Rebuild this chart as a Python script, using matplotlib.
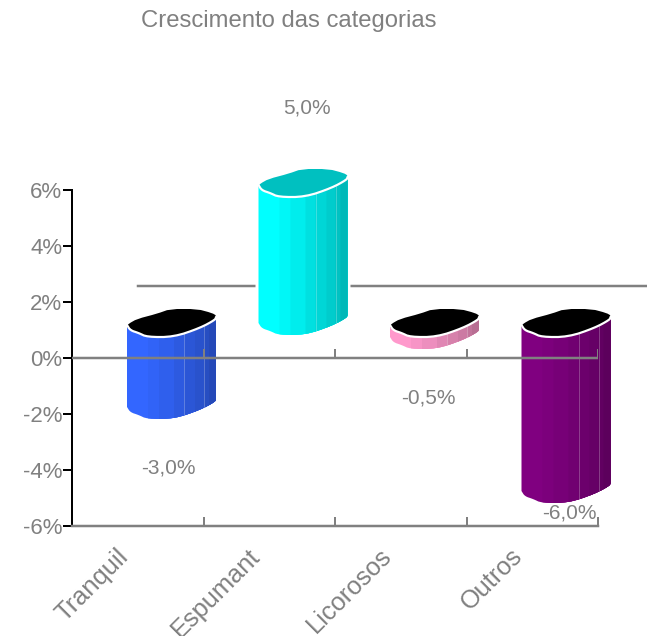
import numpy as np
import matplotlib
matplotlib.use("Agg")
import matplotlib.pyplot as plt
from matplotlib.patches import Polygon
from matplotlib.colors import to_rgb

# ---- data ----
categories = ["Tranquil", "Espumant", "Licorosos", "Outros"]
values = [-3.0, 5.0, -0.5, -6.0]
value_labels = ["-3,0%", "5,0%", "-0,5%", "-6,0%"]
title = "Crescimento das categorias"
y_ticks = [-6, -4, -2, 0, 2, 4, 6]
y_tick_labels = ["-6%", "-4%", "-2%", "0%", "2%", "4%", "6%"]
bar_colors = ["#3366FF", "#00FFFF", "#FF99CC", "#800080"]
cap_colors = ["#000000", "#00C0C0", "#000000", "#000000"]

# ---- style ----
W, H = 647, 636
GRAY = "#808080"
FONT = ["Liberation Sans", "DejaVu Sans"]
L, R, T, B = 72, 598, 190, 526
PXX = (R - L) / len(categories)
PXY = (B - T) / (y_ticks[-1] - y_ticks[0])
px = 0.72  # points per pixel at dpi 100


def smooth(x, y, closed=False, n=2):
    """Chaikin corner cutting, keeps the bar outlines rounded."""
    pts = np.c_[x, y]
    for _ in range(n):
        seg_a = pts if closed else pts[:-1]
        seg_b = np.roll(pts, -1, axis=0) if closed else pts[1:]
        out = [pts[0]] if not closed else []
        for p, q in zip(seg_a, seg_b):
            out += [0.75 * p + 0.25 * q, 0.25 * p + 0.75 * q]
        if not closed:
            out.append(pts[-1])
        pts = np.array(out)
    return pts[:, 0], pts[:, 1]


# cross-section of a bar, in pixels from the front-left corner
cap_x, cap_y = smooth(
    np.array([0.0, 0.7, 3.3, 11.7, 20, 46.7, 73, 88.3, 89.5, 85, 70, 43.3, 30, 10, 1.7]),
    np.array([11.0, 9.0, 6.7, 4, 0, 0, 9, 17.3, 21.3, 24, 28, 28, 23.3, 18, 13.3]),
    closed=True, n=1)
front_x, front_y = smooth(
    np.array([0, 3.3, 11.7, 20, 46.7, 73, 88.3, 89]),
    np.array([12, 6.7, 4, 0, 0, 9, 17.3, 20]), n=2)
facet_x = np.array([0, 21, 32, 47, 57, 68, 77, 82])
facet_shade = [1.0, 0.97, 0.93, 0.88, 0.84, 0.80, 0.76, 0.72]
seam_x = [57, 77]
BAR_LEFT = 55
TOP_SHIFT, BOTTOM_SHIFT = 21, 23
DEPTH_X, DEPTH_Y = 66, 72
LABEL_NUDGE = [31, 38, 28, 37]

fig = plt.figure(figsize=(W / 100, H / 100), dpi=100)
ax = fig.add_axes([L / W, 1 - B / H, (R - L) / W, (B - T) / H])
ax.set_xlim(0, len(categories))
ax.set_ylim(y_ticks[0], y_ticks[-1])
for s in ("top", "right"):
    ax.spines[s].set_visible(False)
ax.spines["left"].set_color("black")
ax.spines["left"].set_linewidth(2 * px)
ax.spines["bottom"].set_color(GRAY)
ax.spines["bottom"].set_linewidth(2.5 * px)
ax.set_yticks(y_ticks)
ax.set_yticklabels(y_tick_labels, family=FONT, fontsize=16, color=GRAY)
ax.tick_params(axis="y", length=9 * px, width=2 * px, color="black", pad=0.5)
ax.set_xticks(np.arange(1, len(categories) + 1))
ax.set_xticklabels([])
ax.tick_params(axis="x", direction="in", length=9 * px, width=2 * px, color=GRAY)

# back wall line
ax.plot([DEPTH_X / PXX, len(categories) + DEPTH_X / PXX], [DEPTH_Y / PXY] * 2,
        color=GRAY, lw=2.5 * px, clip_on=False, zorder=1)

for i, (v, col, capc) in enumerate(zip(values, bar_colors, cap_colors)):
    x0 = i + BAR_LEFT / PXX
    top = max(v, 0) + TOP_SHIFT / PXY
    bot = min(v, 0) + BOTTOM_SHIFT / PXY
    xs = x0 + np.r_[front_x, front_x[::-1]] / PXX
    ys = np.r_[top + front_y / PXY, bot + front_y[::-1] / PXY]
    ax.add_patch(Polygon(np.c_[xs, ys], closed=True, fc="white", ec="white",
                         lw=6 * px, zorder=2, clip_on=False))
    base = np.array(to_rgb(col))
    # each facet runs to the right end; later ones paint over earlier ones
    for a, sh in zip(facet_x, facet_shade):
        m = front_x > a
        sx = np.r_[a, front_x[m]]
        sy = np.interp(sx, front_x, front_y)
        px_ = x0 + np.r_[sx, sx[::-1]] / PXX
        py_ = np.r_[top + sy / PXY, bot + sy[::-1] / PXY]
        ax.add_patch(Polygon(np.c_[px_, py_], closed=True, fc=base * sh, ec="none",
                             zorder=3, clip_on=False))
    for sx in seam_x:
        sy = np.interp(sx, front_x, front_y)
        ax.plot([x0 + sx / PXX] * 2, [top + sy / PXY, bot + sy / PXY], color="white",
                alpha=0.3, lw=0.8 * px, zorder=3.5, clip_on=False)
    ax.add_patch(Polygon(np.c_[x0 + cap_x / PXX, top + cap_y / PXY], closed=True,
                         fc=capc, ec="none", zorder=4, clip_on=False))
    ax.plot(x0 + front_x / PXX, top + front_y / PXY, color="white", lw=2.2 * px,
            zorder=5, clip_on=False, solid_capstyle="round")

    # value label
    if v > 0:
        y_off = 110
    else:
        y_off = -min(26, (B - 13) - (358 - v * PXY))
    ax.annotate(value_labels[i], (i + 0.5, v), xytext=(LABEL_NUDGE[i] * px, y_off * px),
                textcoords="offset points", ha="center", va="center", family=FONT,
                fontsize=15, color=GRAY, zorder=8, annotation_clip=False)

# zero axis
ax.axhline(0, color=GRAY, lw=2.5 * px, zorder=6)
ax.vlines(np.arange(1, len(categories) + 1), 0, 9 / PXY, color=GRAY, lw=2 * px, zorder=6)

# category labels
for i, c in enumerate(categories):
    ax.annotate(c, (i, y_ticks[0]), xytext=(44 * px, -18 * px),
                textcoords="offset points", ha="right", va="top", rotation=45,
                rotation_mode="anchor", family=FONT, fontsize=18.3, color=GRAY,
                annotation_clip=False)

fig.text(288.5 / W, 1 - 21 / H, title, ha="center", va="center", family=FONT,
         fontsize=17.2, color=GRAY)
fig.savefig("out.png", dpi=100)
